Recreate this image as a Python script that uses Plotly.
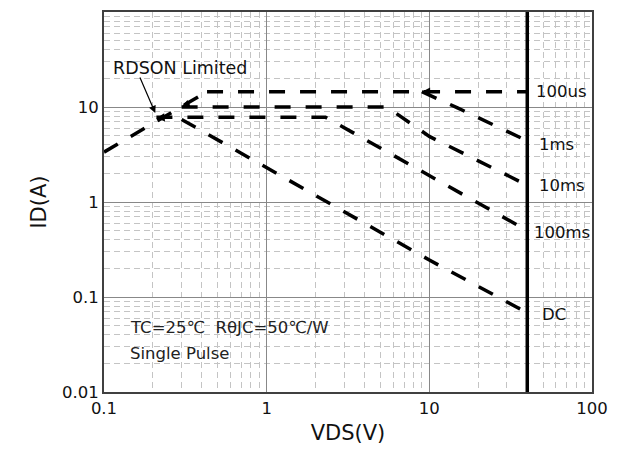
import plotly.graph_objects as go
import math

# ---- data ----
rdson_v = [0.1, 0.43]
rdson_i = [3.35, 14.5]
us100_v = [0.43, 40]
us100_i = [14.5, 14.5]
ms1_v = [9.0, 14.9, 40]
ms1_i = [14.5, 9.8, 4.4]
ms10_v = [0.3, 5.5, 10, 40]
ms10_i = [10, 10, 4.9, 1.5]
ms100_v = [0.21, 2.3, 40]
ms100_i = [7.8, 7.8, 0.5]
dc_v = [0.3, 10, 40]
dc_i = [7.4, 0.245, 0.068]
vds_max = 40
curve_labels = ["100us", "1ms", "10ms", "100ms", "DC"]
label_v = [43.7, 46.2, 46.2, 43.0, 48.2]
label_i = [14.5, 4.0, 1.51, 0.48, 0.065]
x_ticks = [0.1, 1, 10, 100]
x_ticklabels = ["0.1", "1", "10", "100"]
y_ticks = [0.01, 0.1, 1, 10, 100]
y_ticklabels = ["0.01", "0.1", "1", "10", "100"]

FONT = "DejaVu Sans, Verdana, sans-serif"
fig = go.Figure()
dash = "16px,15px"
for v, i in [(rdson_v, rdson_i), (us100_v, us100_i), (ms1_v, ms1_i),
             (ms10_v, ms10_i), (ms100_v, ms100_i), (dc_v, dc_i)]:
    fig.add_trace(go.Scatter(x=v, y=i, mode="lines",
                             line=dict(color="black", width=3.5, dash=dash),
                             showlegend=False, hoverinfo="skip"))
fig.add_trace(go.Scatter(x=[vds_max, vds_max], y=[0.01, 100], mode="lines",
                         line=dict(color="black", width=3.5),
                         showlegend=False, hoverinfo="skip"))

ann = []
for lab, xv, yi in zip(curve_labels, label_v, label_i):
    ann.append(dict(x=math.log10(xv), y=math.log10(yi), text=lab, showarrow=False,
                    xanchor="left", yanchor="middle",
                    font=dict(family=FONT, size=16.5, color="#111")))
ann.append(dict(x=-0.531, y=1.41, text="RDSON Limited", showarrow=False,
                xanchor="center", yanchor="middle",
                font=dict(family=FONT, size=17.5, color="#111")))
# arrow for RDSON Limited
ann.append(dict(x=-0.685, y=0.937, ax=-0.783, ay=1.326, axref="x", ayref="y",
                xref="x", yref="y", text="", showarrow=True, arrowhead=2,
                arrowsize=1.2, arrowwidth=1.2, arrowcolor="black", standoff=0))
# small junction arrowheads
for (xv, yv, dy) in [(0.3, 10.0, -4), (0.21, 7.6, -1), (9.0, 14.5, 0)]:
    ann.append(dict(x=math.log10(xv), y=math.log10(yv), ax=9, ay=dy,
                    text="", showarrow=True, arrowhead=2, arrowsize=0.55,
                    arrowwidth=3, arrowcolor="black", standoff=0))
ann.append(dict(x=-0.851, y=-1.326, text="TC=25℃  RθJC=50℃/W",
                showarrow=False, xanchor="left", yanchor="middle",
                font=dict(family=FONT, size=16.5, color="#222")))
ann.append(dict(x=-0.851, y=-1.59, text="Single Pulse",
                showarrow=False, xanchor="left", yanchor="middle",
                font=dict(family=FONT, size=16.5, color="#222")))


def minor_vals(lo, hi):
    out = []
    for d in range(lo, hi):
        for k in range(2, 10):
            out.append(k * 10 ** d)
    return out


def axis_common(minor_ticks):
    return dict(type="log", showline=True, mirror=True, linecolor="#404040",
                linewidth=2, showgrid=True, gridcolor="#888888", gridwidth=1,
                ticks="", zeroline=False, automargin=False,
                tickfont=dict(family=FONT, size=16.5, color="#111"),
                minor=dict(showgrid=True, gridcolor="#c4c4c4", griddash="6px,4px",
                           gridwidth=1, ticks="", tickmode="array",
                           tickvals=minor_ticks))


fig.update_xaxes(range=[-1, 2], tickvals=x_ticks, ticktext=x_ticklabels,
                 title=dict(text="VDS(V)", font=dict(family=FONT, size=21, color="#111"),
                            standoff=9),
                 **axis_common(minor_vals(-1, 2)))
fig.update_yaxes(range=[-2, 2], tickvals=y_ticks, ticktext=y_ticklabels,
                 title=dict(text="ID(A)", font=dict(family=FONT, size=21, color="#111"),
                            standoff=10),
                 **axis_common(minor_vals(-2, 2)))
fig.update_layout(width=617, height=449, margin=dict(l=96, r=33, t=4, b=65),
                  plot_bgcolor="white", paper_bgcolor="white",
                  annotations=ann, showlegend=False)
fig.write_html("out.html")
